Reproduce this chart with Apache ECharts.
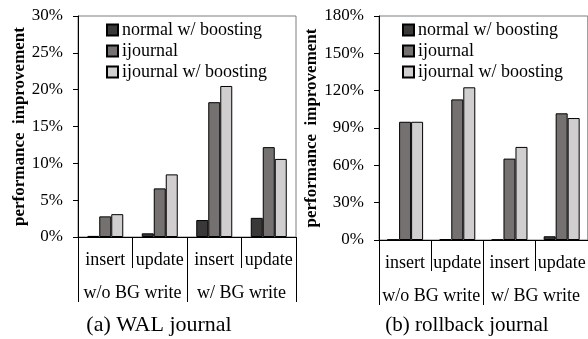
<!DOCTYPE html>
<html>
<head>
<meta charset="utf-8">
<script src="https://cdn.jsdelivr.net/npm/echarts@6/dist/echarts.min.js"></script>
<style>
  html, body { margin: 0; padding: 0; background: #fff; }
  #chart { width: 588px; height: 339px; }
</style>
</head>
<body>
<div id="chart"></div>
<script>
const categories = ['insert', 'update', 'insert', 'update']
const groups = ['w/o BG write', 'w/ BG write']
const seriesNames = ['normal w/ boosting', 'ijournal', 'ijournal w/ boosting']

// (a) WAL journal
const walNormal = [0.15, 0.5, 2.3, 2.6]
const walIjournal = [2.8, 6.6, 18.3, 12.2]
const walIjournalBoost = [3.1, 8.5, 20.5, 10.6]

// (b) rollback journal
const rbNormal = [0.3, 0.8, 0.3, 3.0]
const rbIjournal = [95, 113, 65.4, 101.8]
const rbIjournalBoost = [95, 122.7, 74.8, 98]

const colors = ['#3b3838', '#767171', '#d0cece']
const font = "'Liberation Serif', 'Times New Roman', serif"

const grids = [
  {left: 78, top: 16, width: 218, height: 221},
  {left: 379, top: 16, width: 214, height: 224},
]

const xAxes = []
const yAxes = []
grids.forEach((g, i) => {
  xAxes.push({
    type: 'category', gridIndex: i, data: categories,
    axisLine: {show: true, lineStyle: {color: '#000', width: 1}},
    axisTick: {show: true, interval: 0, length: 31, lineStyle: {color: '#000'}},
    axisLabel: {interval: 0, color: '#000', fontFamily: font, fontSize: 18, margin: 14},
  })
  xAxes.push({
    type: 'category', gridIndex: i, data: groups, position: 'bottom',
    axisLine: {show: false},
    axisTick: {show: true, interval: 0, length: 65, lineStyle: {color: '#000'}},
    axisLabel: {interval: 0, color: '#000', fontFamily: font, fontSize: 18, margin: 47},
  })
})

const yName = {color: '#000', fontFamily: font, fontSize: 17, fontWeight: 'bold'}
yAxes.push({
  type: 'value', gridIndex: 0, min: 0, max: 30, interval: 5,
  name: 'performance  improvement', nameLocation: 'middle', nameGap: 50,
  nameTextStyle: yName,
  axisLine: {show: true, lineStyle: {color: '#000'}},
  axisTick: {show: true, length: 5, lineStyle: {color: '#000'}},
  axisLabel: {color: '#000', fontFamily: font, fontSize: 17, margin: 15, formatter: '{value}%'},
  splitLine: {show: false},
})
yAxes.push({
  type: 'value', gridIndex: 1, min: 0, max: 180, interval: 30,
  name: 'performance  improvement', nameLocation: 'middle', nameGap: 56,
  nameTextStyle: yName,
  axisLine: {show: true, lineStyle: {color: '#000'}},
  axisTick: {show: true, length: 5, lineStyle: {color: '#000'}},
  axisLabel: {color: '#000', fontFamily: font, fontSize: 17, margin: 15, formatter: '{value}%'},
  splitLine: {show: false},
})

const makeBar = (name, data, idx, gi) => ({
  name, type: 'bar', data,
  xAxisIndex: gi * 2, yAxisIndex: gi,
  barWidth: 12, barGap: 0,
  itemStyle: {color: colors[idx], borderColor: '#000', borderWidth: 1},
  emphasis: {disabled: true},
})

const series = [
  makeBar(seriesNames[0], walNormal, 0, 0),
  makeBar(seriesNames[1], walIjournal, 1, 0),
  makeBar(seriesNames[2], walIjournalBoost, 2, 0),
  makeBar(seriesNames[0], rbNormal, 0, 1),
  makeBar(seriesNames[1], rbIjournal, 1, 1),
  makeBar(seriesNames[2], rbIjournalBoost, 2, 1),
]

const legendBase = {
  orient: 'vertical', top: 16, itemWidth: 11, itemHeight: 11, itemGap: 3,
  icon: 'rect', data: seriesNames, selectedMode: false,
  textStyle: {color: '#000', fontFamily: font, fontSize: 18, padding: [0, 0, 0, -1]},
}

const option = {
  animation: false,
  backgroundColor: '#fff',
  grid: grids.map(g => Object.assign({show: true, borderColor: '#7f7f7f', borderWidth: 1, backgroundColor: 'transparent'}, g)),
  xAxis: xAxes,
  yAxis: yAxes,
  legend: [
    Object.assign({left: 101}, legendBase),
    Object.assign({left: 397}, legendBase),
  ],
  graphic: [
    {type: 'text', style: {x: 159, y: 325, text: '(a) WAL journal', fill: '#000', font: '22px ' + font, textAlign: 'center', textVerticalAlign: 'middle'}},
    {type: 'text', style: {x: 467, y: 325, text: '(b) rollback journal', fill: '#000', font: '21px ' + font, textAlign: 'center', textVerticalAlign: 'middle'}},
  ],
  series,
}

const chart = echarts.init(document.getElementById('chart'))
chart.setOption(option)
</script>
</body>
</html>
